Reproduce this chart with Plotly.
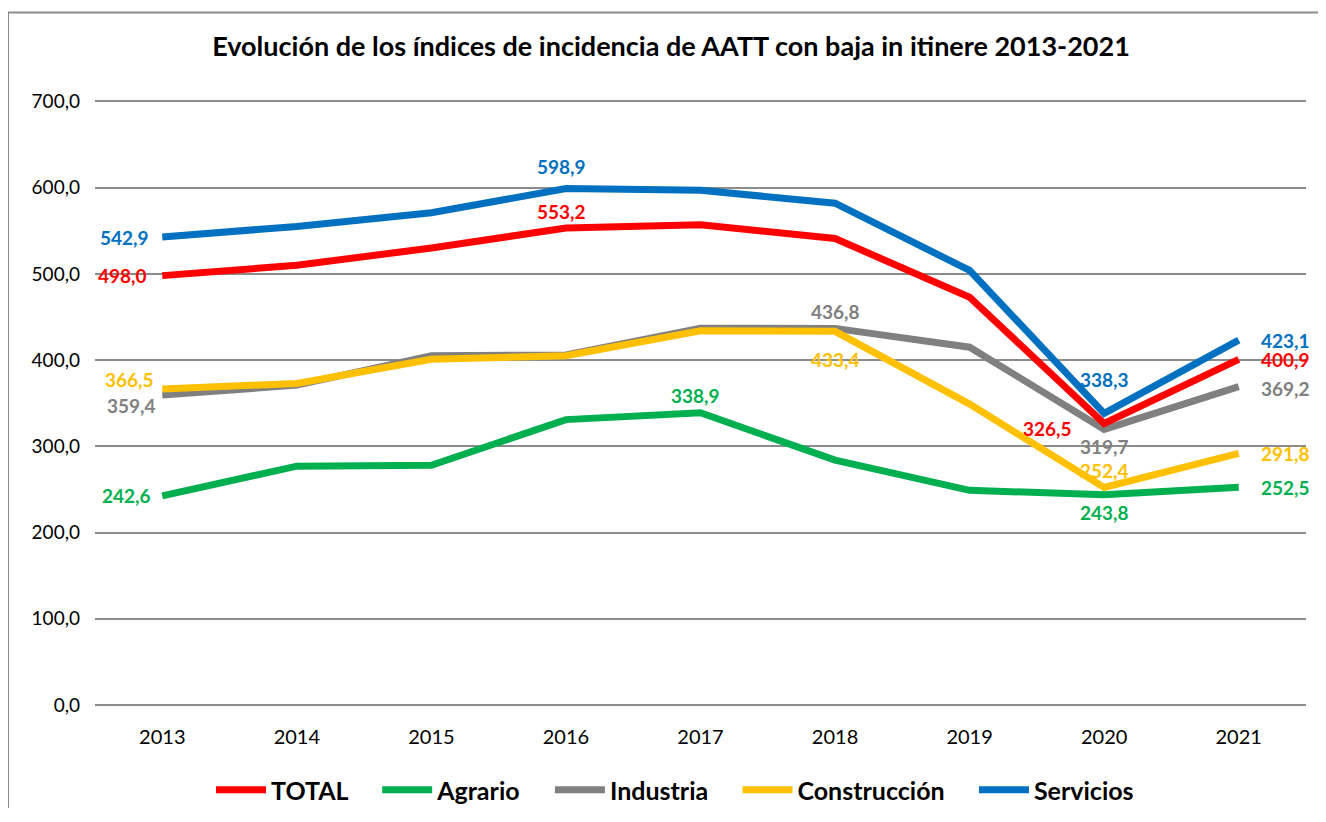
import plotly.graph_objects as go

years = ["2013", "2014", "2015", "2016", "2017", "2018", "2019", "2020", "2021"]

total = [498.0, 510.0, 530.0, 553.2, 557.0, 541.0, 473.0, 326.5, 400.9]
agrario = [242.6, 277.0, 278.0, 331.0, 338.9, 284.0, 249.0, 243.8, 252.5]
industria = [359.4, 371.0, 405.0, 406.0, 437.0, 436.8, 415.0, 319.7, 369.2]
construccion = [366.5, 373.0, 401.0, 405.0, 434.0, 433.4, 349.0, 252.4, 291.8]
servicios = [542.9, 555.0, 571.0, 598.9, 597.0, 582.0, 504.0, 338.3, 423.1]

series_names = ["TOTAL", "Agrario", "Industria", "Construcción", "Servicios"]
y_ticks = [0, 100, 200, 300, 400, 500, 600, 700]

colors = {
    "TOTAL": "#FF0000",
    "Agrario": "#00B050",
    "Industria": "#808080",
    "Construcción": "#FFC000",
    "Servicios": "#0070C0",
}
data = {
    "TOTAL": total,
    "Agrario": agrario,
    "Industria": industria,
    "Construcción": construccion,
    "Servicios": servicios,
}
# labelled points: index -> (x shift px, y shift px; screen down = positive)
label_offsets = {
    "TOTAL": {0: (-40, 0), 3: (-4, -17), 7: (-57, 5), 8: (47, 0)},
    "Agrario": {0: (-36, 0), 4: (-5, -17), 7: (0, 18), 8: (47, 0)},
    "Industria": {0: (-31, 10), 5: (0, -17), 7: (0, 17), 8: (47, 2)},
    "Construcción": {0: (-33, -10), 5: (0, 28), 7: (0, -17), 8: (47, 0)},
    "Servicios": {0: (-38, 1), 3: (-4, -22), 7: (0, -34), 8: (47, 0)},
}
draw_order = ["Servicios", "Industria", "Construcción", "Agrario", "TOTAL"]

FONT = "Lato, 'Open Sans', sans-serif"
LEGEND_PAD = "\u00a0" * 4   # extra spacing between legend entries

# page is offset by the 8px body margin; layout below is in figure coords
W, H = 1310, 800
L, R = 87, 12
PLOT_BOTTOM = 697          # figure px of y=0
PX_PER_UNIT = 604 / 700
Y_MAX = 704
plot_h = Y_MAX * PX_PER_UNIT
T = PLOT_BOTTOM - plot_h
B = H - PLOT_BOTTOM

fig = go.Figure()
annotations = []
for name in draw_order:
    vals = data[name]
    rank = series_names.index(name)
    shown = name + (LEGEND_PAD if rank < len(series_names) - 1 else "")
    fig.add_trace(go.Scatter(
        x=years, y=vals, name=shown, mode="lines",
        line=dict(color=colors[name], width=7),
        legendrank=rank + 1,
        hovertemplate=name + ": %{y:.1f}<extra>%{x}</extra>",
    ))
for name in draw_order:
    vals = data[name]
    for i, (dx, dy) in label_offsets[name].items():
        annotations.append(dict(
            x=i, y=vals[i], xref="x", yref="y",
            text=f"{vals[i]:.1f}".replace(".", ","),
            showarrow=False, xanchor="center", yanchor="middle",
            xshift=dx, yshift=-dy,
            font=dict(family=FONT, size=19, color=colors[name], weight="bold"),
        ))

fig.update_layout(
    width=W, height=H,
    paper_bgcolor="white", plot_bgcolor="white",
    margin=dict(l=L, r=R, t=T, b=B, pad=0),
    separators=",.",
    title=dict(
        text="<b>Evolución de los índices de incidencia de AATT con baja in itinere 2013-2021</b>",
        x=663 / W, xanchor="center", y=1 - 39 / H, yanchor="middle",
        font=dict(family=FONT, size=27, color="black"),
    ),
    xaxis=dict(
        type="category", categoryorder="array", categoryarray=years,
        range=[-0.5, len(years) - 0.5],
        showgrid=False, showline=False, zeroline=False,
        ticks="", tickfont=dict(family=FONT, size=20, color="black"),
        ticklabelstandoff=18,
    ),
    yaxis=dict(
        range=[0, Y_MAX], tickvals=y_ticks, tickformat=".1f",
        showgrid=True, gridcolor="#8C8C8C", gridwidth=2,
        zeroline=True, zerolinecolor="#8C8C8C", zerolinewidth=2,
        showline=False, ticks="",
        tickfont=dict(family=FONT, size=19, color="black"),
        ticklabelstandoff=14,
    ),
    legend=dict(
        orientation="h", xref="container", yref="container",
        x=667 / W, xanchor="center",
        y=1 - 782 / H, yanchor="middle",
        font=dict(family=FONT, size=25, color="black", weight="bold"),
        itemwidth=50, tracegroupgap=0,
    ),
    showlegend=True,
    annotations=annotations,
    shapes=[
        dict(type="line", xref="paper", yref="paper",
             x0=-L / (W - L - R), x1=1.1, y0=(PLOT_BOTTOM - 4) / plot_h, y1=(PLOT_BOTTOM - 4) / plot_h,
             line=dict(color="#8C8C8C", width=2)),
        dict(type="line", xref="paper", yref="paper",
             x0=-L / (W - L - R), x1=-L / (W - L - R), y0=(PLOT_BOTTOM - 4) / plot_h, y1=-0.3,
             line=dict(color="#8C8C8C", width=2)),
    ],
)

fig.write_html("out.html")
